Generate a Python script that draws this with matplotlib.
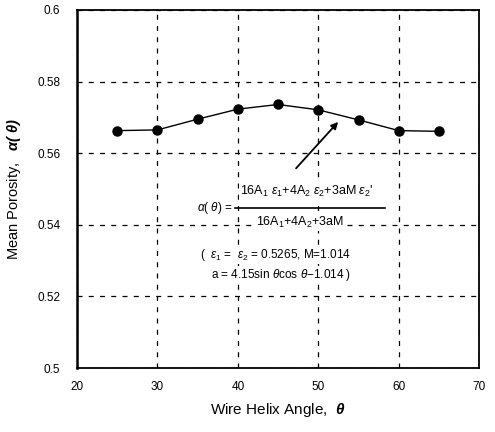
import matplotlib
matplotlib.use('Agg')
import matplotlib.pyplot as plt

plt.rcParams['font.family'] = ['Liberation Sans', 'DejaVu Sans']
plt.rcParams['mathtext.fontset'] = 'custom'
plt.rcParams['mathtext.rm'] = 'Liberation Sans'
plt.rcParams['mathtext.it'] = 'Liberation Sans:italic'
plt.rcParams['mathtext.bf'] = 'Liberation Sans:bold:italic'

# data
angle = [25, 30, 35, 40, 45, 50, 55, 60, 65]
porosity = [0.5663, 0.5665, 0.5695, 0.5723, 0.5736, 0.5721, 0.5693, 0.5663, 0.5661]
xticks = [20, 30, 40, 50, 60, 70]
yticks = [0.5, 0.52, 0.54, 0.56, 0.58, 0.6]
ytick_labels = ['0.5', '0.52', '0.54', '0.56', '0.58', '0.6']

fig = plt.figure(figsize=(4.95, 4.32), dpi=100)
ax = fig.add_axes([0.1556, 0.148, 0.8124, 0.829])

ax.plot(angle, porosity, color='black', lw=1.0, marker='o', ms=6.5, zorder=3)

ax.set_xlim(20, 70)
ax.set_ylim(0.5, 0.6)
ax.set_xticks(xticks)
ax.set_yticks(yticks)
ax.set_yticklabels(ytick_labels)
ax.tick_params(length=0, labelsize=8.5, pad=9)
ax.tick_params(axis='y', pad=12)
ax.grid(True, color='black', ls=(0, (4, 5)), lw=0.9)
for s in ax.spines.values():
    s.set_linewidth(1.3)
ax.spines['left'].set_linewidth(1.8)

ax.set_xlabel(r'Wire Helix Angle,  $\mathbf{\theta}$', fontsize=11, labelpad=6)
ax.set_ylabel(r'Mean Porosity,   $\mathbf{\alpha(\ \theta)}$', fontsize=10.5, labelpad=10)

# formula annotation
ax.annotate('', xy=(52.7, 0.5693), xytext=(47.0, 0.5552),
            arrowprops=dict(arrowstyle='-|>', color='black', lw=1.3, mutation_scale=10))
ax.text(39.3, 0.5447, r'$\it{\alpha(\ \theta)}$ =', fontsize=8.5, ha='right', va='center',
        bbox=dict(fc='white', ec='none', pad=1))
ax.text(48.6, 0.5493, r"16A$_1$ $\varepsilon_1$+4A$_2$ $\varepsilon_2$+3aM $\varepsilon_2$'",
        fontsize=9, ha='center', va='center', bbox=dict(fc='white', ec='none', pad=1))
ax.plot([39.7, 58.3], [0.5447, 0.5447], color='black', lw=1.2, zorder=4)
ax.text(47.7, 0.5407, r'16A$_1$+4A$_2$+3aM', fontsize=9, ha='center', va='center',
        bbox=dict(fc='white', ec='none', pad=1))
ax.text(35.3, 0.5316, r'(  $\varepsilon_1$ =  $\varepsilon_2$ = 0.5265, M=1.014', fontsize=8.5,
        ha='left', va='center', bbox=dict(fc='white', ec='none', pad=1))
ax.text(36.7, 0.5260, r'a = 4.15sin $\it{\theta}$cos $\it{\theta}$$-$1.014 )', fontsize=8.5,
        ha='left', va='center', bbox=dict(fc='white', ec='none', pad=1))

fig.savefig('out.png', dpi=100)
